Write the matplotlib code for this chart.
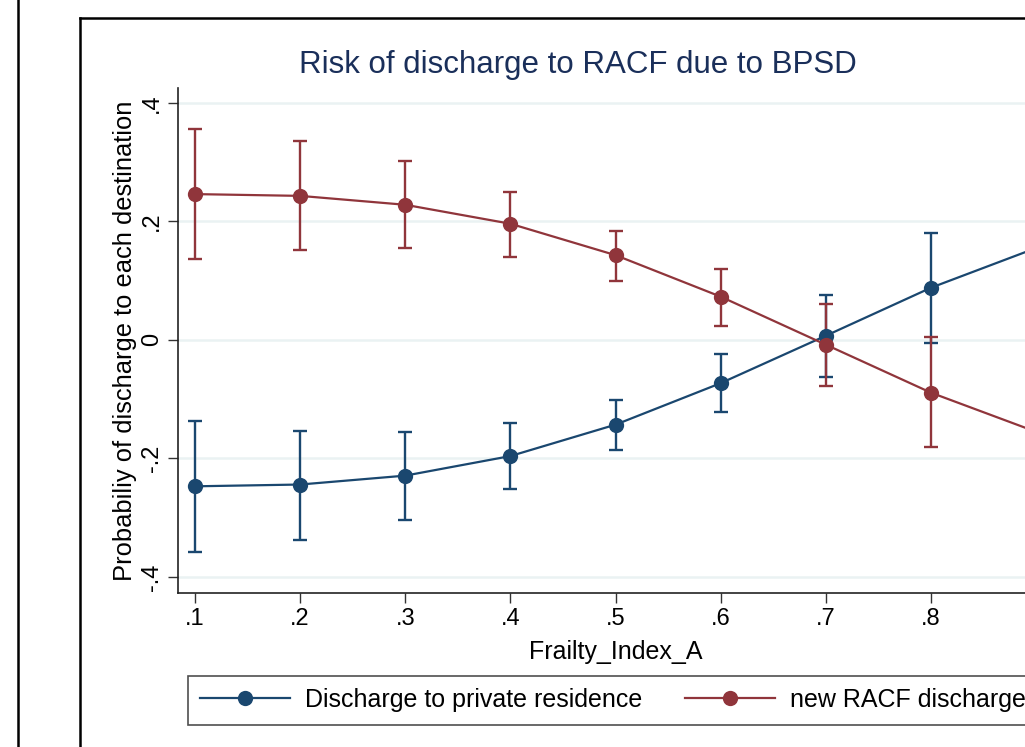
import matplotlib
matplotlib.use("Agg")
import matplotlib.pyplot as plt
from matplotlib.lines import Line2D

plt.rcParams['font.family'] = ['Liberation Sans', 'DejaVu Sans']

# ---- data ----
frailty = [0.1, 0.2, 0.3, 0.4, 0.5, 0.6, 0.7, 0.8, 0.9]
private_est = [-0.247, -0.244, -0.229, -0.196, -0.143, -0.073, 0.007, 0.088, 0.155]
private_lo = [-0.358, -0.338, -0.303, -0.251, -0.186, -0.122, -0.062, -0.005, 0.035]
private_hi = [-0.137, -0.153, -0.156, -0.141, -0.101, -0.024, 0.076, 0.180, 0.275]
racf_est = [0.246, 0.243, 0.228, 0.196, 0.143, 0.073, -0.008, -0.089, -0.155]
racf_lo = [0.137, 0.152, 0.155, 0.140, 0.100, 0.024, -0.078, -0.180, -0.275]
racf_hi = [0.356, 0.336, 0.301, 0.250, 0.184, 0.120, 0.061, 0.005, -0.035]
xticks = [0.1, 0.2, 0.3, 0.4, 0.5, 0.6, 0.7, 0.8]
xticklabels = ['.1', '.2', '.3', '.4', '.5', '.6', '.7', '.8']
yticks = [-0.4, -0.2, 0.0, 0.2, 0.4]
yticklabels = ['-.4', '-.2', '0', '.2', '.4']
title = "Risk of discharge to RACF due to BPSD"
xlabel = "Frailty_Index_A"
ylabel = "Probabiliy of discharge to each destination"
labels = ["Discharge to private residence", "new RACF discharge"]

BLUE = '#1a476f'
RED = '#90353b'
GRID = '#eaf2f3'

W, H = 1025, 747
fig = plt.figure(figsize=(W / 100, H / 100), dpi=100)
fig.patch.set_facecolor('white')

ax_l, ax_r, ax_t, ax_b = 178, 1053, 88, 593
ax = fig.add_axes([ax_l / W, 1 - ax_b / H, (ax_r - ax_l) / W, (ax_b - ax_t) / H])

for est, lo, hi, col, lab in [(private_est, private_lo, private_hi, BLUE, labels[0]),
                              (racf_est, racf_lo, racf_hi, RED, labels[1])]:
    yerr = [[e - l for e, l in zip(est, lo)], [h - e for e, h in zip(est, hi)]]
    ax.errorbar(frailty, est, yerr=yerr, fmt='none', ecolor=col, elinewidth=1.7,
                capsize=5, capthick=1.7, zorder=3)
    ax.plot(frailty, est, '-o', color=col, lw=1.6, ms=11, markeredgewidth=0,
            label=lab, zorder=4)

ax.set_xlim(0.0839, 0.9161)
ax.set_ylim(-0.427, 0.425)
ax.set_xticks(xticks)
ax.set_xticklabels(xticklabels)
ax.set_yticks(yticks)
ax.set_yticklabels(yticklabels, rotation=90, va='center')
ax.tick_params(axis='both', labelsize=17, length=7, width=1.0, color='#333333', pad=4)
ax.tick_params(axis='y', pad=4)
for y in yticks:
    ax.axhline(y, color=GRID, lw=1.8, zorder=1)
for s in ['top', 'right']:
    ax.spines[s].set_visible(False)
for s in ['left', 'bottom']:
    ax.spines[s].set_linewidth(1.2)
    ax.spines[s].set_color('#222222')

ax.set_xlabel(xlabel, fontsize=18, labelpad=7)
ax.set_ylabel(ylabel, fontsize=18.4, labelpad=3)

fig.text(578 / W, 1 - 65 / H, title, fontsize=22.5, color='#1a2f5a', ha='center', va='center')

leg = fig.legend(loc='center', bbox_to_anchor=(613 / W, 1 - 700 / H), ncol=2,
                 fontsize=18, frameon=True, fancybox=False, handlelength=3.6,
                 handletextpad=0.6, columnspacing=1.7, borderpad=0.5,
                 borderaxespad=0)
leg.get_frame().set_edgecolor('#222222')
leg.get_frame().set_linewidth(1.2)

# frame lines
fig.add_artist(Line2D([18 / W, 18 / W], [0, 1], color='black', lw=1.8))
fig.add_artist(Line2D([80 / W, 80 / W], [0, 1 - 18 / H], color='black', lw=1.8))
fig.add_artist(Line2D([80 / W, 1.0], [1 - 18 / H, 1 - 18 / H], color='black', lw=1.8))

fig.savefig('out.png', dpi=100)
